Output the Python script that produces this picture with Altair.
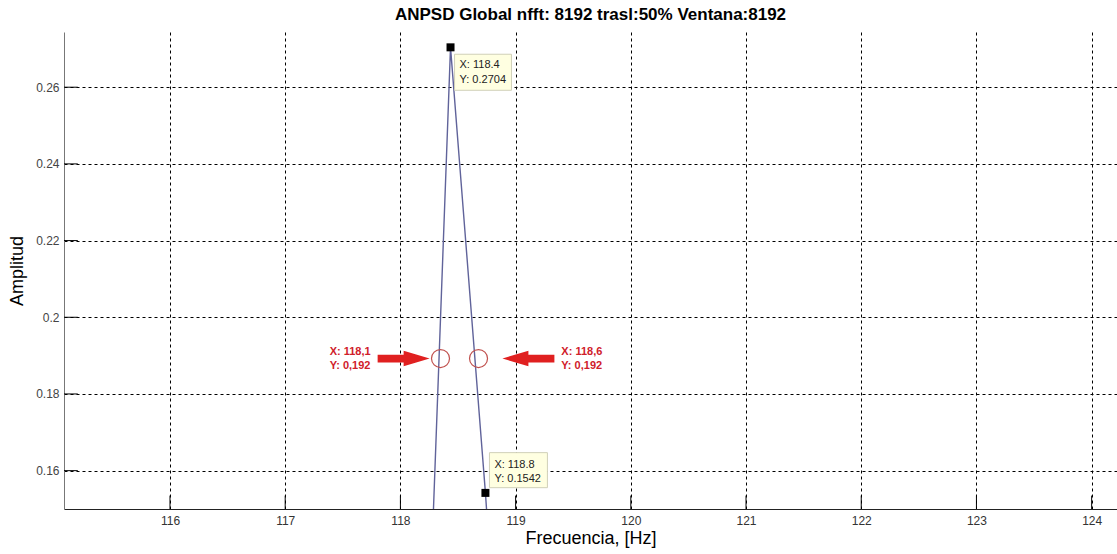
import altair as alt
import pandas as pd

# Spectrum samples (frequency Hz, amplitude)
freq = [117.829, 118.132, 118.435, 118.738, 119.041]
amp = [0.010, 0.024, 0.2704, 0.1542, 0.020]

# data tips
tip_x = [118.435, 118.738]
tip_y = [0.2704, 0.1542]
tip_label_x = ["X: 118.4", "X: 118.8"]
tip_label_y = ["Y: 0.2704", "Y: 0.1542"]
tip_box_x = [118.47, 118.773]
tip_box_x2 = [118.964, 119.276]
tip_box_y = [0.2686, 0.1647]
tip_box_y2 = [0.2592, 0.15556]
tip_text_x = [118.513, 118.816]
tip_text_y1 = [0.2657, 0.16157]
tip_text_y2 = [0.2618, 0.15791]

# red annotations
circ_x = [118.348, 118.678]
circ_y = [0.18924, 0.18924]
ann_text_x = [117.386, 119.397]
ann_line1 = ["X: 118,1", "X: 118,6"]
ann_line2 = ["Y: 0,192", "Y: 0,192"]
ann_y1 = [0.19089, 0.19089]
ann_y2 = [0.18742, 0.18742]
arrow_x = [118.028, 119.111]
arrow_y = [0.18924, 0.18924]

x_ticks = [116, 117, 118, 119, 120, 121, 122, 123, 124]
y_ticks = [0.16, 0.18, 0.2, 0.22, 0.24, 0.26]
x_dom = [115.08, 124.22]
y_dom = [0.15, 0.2744]

xs = alt.Scale(domain=x_dom, nice=False, zero=False)
ys = alt.Scale(domain=y_dom, nice=False, zero=False)

FONT = "Liberation Sans"

x_axis = alt.Axis(values=x_ticks, format="d", grid=True, gridColor="black",
                  gridDash=[3, 3], gridOpacity=1, gridWidth=1, ticks=False,
                  domainColor="#222", labelColor="#333", labelFontSize=12,
                  labelFont=FONT, labelPadding=6, titleFont=FONT,
                  titleFontSize=18, titleFontWeight="normal", titleColor="black",
                  titlePadding=3)
y_axis = alt.Axis(values=y_ticks, format="~g", grid=True, gridColor="black",
                  gridDash=[3, 3], gridOpacity=1, gridWidth=1, ticks=False,
                  domainColor="#777", labelColor="#444", labelFontSize=12,
                  labelFont=FONT, labelPadding=5, titleFont=FONT,
                  titleFontSize=18, titleFontWeight="normal", titleColor="black",
                  titlePadding=9)


def X(field):
    return alt.X(field, type="quantitative", scale=xs, axis=x_axis, title="Frecuencia, [Hz]")


def Y(field):
    return alt.Y(field, type="quantitative", scale=ys, axis=y_axis, title="Amplitud")


line_df = pd.DataFrame({"f": freq, "a": amp})
line = alt.Chart(line_df).mark_line(color="#60639a", strokeWidth=1.4, clip=True).encode(
    x=X("f"), y=Y("a"))

# inward ticks
xt_df = pd.DataFrame({"x": x_ticks, "y": [y_dom[0]] * len(x_ticks),
                      "y2": [y_dom[0] + 0.0035] * len(x_ticks)})
xt = alt.Chart(xt_df).mark_rule(color="black", strokeWidth=1).encode(
    x=X("x"), y=Y("y"), y2="y2:Q")
yt_df = pd.DataFrame({"y": y_ticks, "x": [x_dom[0]] * len(y_ticks),
                      "x2": [x_dom[0] + 0.12] * len(y_ticks)})
yt = alt.Chart(yt_df).mark_rule(color="black", strokeWidth=1).encode(
    y=Y("y"), x=X("x"), x2="x2:Q")

tip_df = pd.DataFrame({"x": tip_x, "y": tip_y, "bx": tip_box_x, "bx2": tip_box_x2,
                       "by": tip_box_y, "by2": tip_box_y2, "tx": tip_text_x,
                       "ty1": tip_text_y1, "ty2": tip_text_y2,
                       "l1": tip_label_x, "l2": tip_label_y})
boxes = alt.Chart(tip_df).mark_rect(fill="#ffffe1", stroke="#d0d0b8", strokeWidth=1).encode(
    x=X("bx"), x2="bx2:Q", y=Y("by"), y2="by2:Q")
marks = alt.Chart(tip_df).mark_square(color="black", size=64, opacity=1).encode(
    x=X("x"), y=Y("y"))
t1 = alt.Chart(tip_df).mark_text(align="left", baseline="middle", fontSize=11,
                                 font=FONT, color="#222").encode(
    x=X("tx"), y=Y("ty1"), text="l1:N")
t2 = alt.Chart(tip_df).mark_text(align="left", baseline="middle", fontSize=11,
                                 font=FONT, color="#222").encode(
    x=X("tx"), y=Y("ty2"), text="l2:N")

ann_df = pd.DataFrame({"cx": circ_x, "cy": circ_y, "tx": ann_text_x, "l1": ann_line1,
                       "l2": ann_line2, "y1": ann_y1, "y2": ann_y2})
circles = alt.Chart(ann_df).mark_point(shape="circle", size=324, filled=False,
                                       stroke="#c0504d", strokeWidth=1.2, opacity=1).encode(
    x=X("cx"), y=Y("cy"))
a1 = alt.Chart(ann_df).mark_text(align="left", baseline="middle", fontSize=11,
                                 fontWeight="bold", font=FONT, color="#d0202a").encode(
    x=X("tx"), y=Y("y1"), text="l1:N")
a2 = alt.Chart(ann_df).mark_text(align="left", baseline="middle", fontSize=11,
                                 fontWeight="bold", font=FONT, color="#d0202a").encode(
    x=X("tx"), y=Y("y2"), text="l2:N")

right_arrow = "M-1,-0.15 L0,-0.15 L0,-0.3 L1,0 L0,0.3 L0,0.15 L-1,0.15 Z"
left_arrow = "M1,-0.15 L0,-0.15 L0,-0.3 L-1,0 L0,0.3 L0,0.15 L1,0.15 Z"
arr_r = alt.Chart(pd.DataFrame({"x": arrow_x[:1], "y": arrow_y[:1]})).mark_point(
    shape=right_arrow, size=2704, filled=True, color="#e02020", opacity=1, strokeWidth=0).encode(
    x=X("x"), y=Y("y"))
arr_l = alt.Chart(pd.DataFrame({"x": arrow_x[1:], "y": arrow_y[1:]})).mark_point(
    shape=left_arrow, size=2704, filled=True, color="#e02020", opacity=1, strokeWidth=0).encode(
    x=X("x"), y=Y("y"))

chart = alt.layer(line, xt, yt, circles, arr_r, arr_l, a1, a2, boxes, marks, t1, t2).properties(
    width=1053, height=477,
    title=alt.TitleParams("ANPSD Global nfft: 8192 trasl:50% Ventana:8192", font=FONT,
                          fontSize=17, fontWeight="bold", color="black", anchor="middle",
                          offset=8),
    autosize=alt.AutoSizeParams(type="none"),
    padding={"left": 64, "top": 32, "right": 0, "bottom": 45},
).configure(background="white").configure_view(stroke=None)

chart.save("out.html", embed_options={"renderer": "svg", "actions": False})
